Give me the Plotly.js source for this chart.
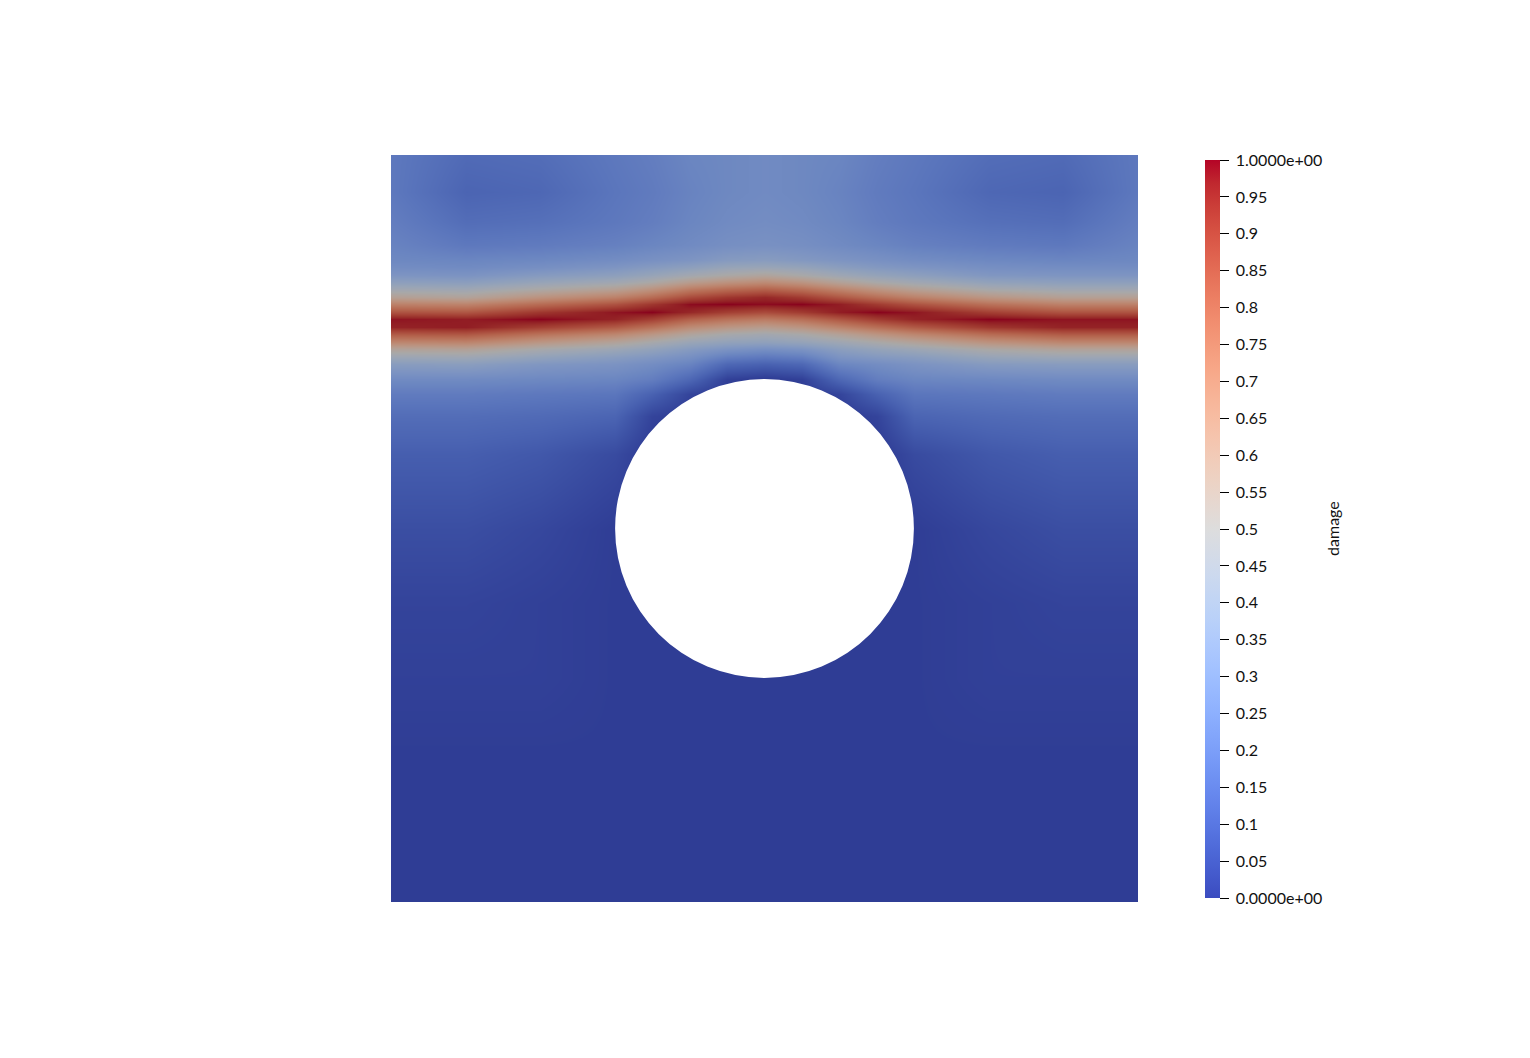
<!DOCTYPE html>
<html>
<head>
<meta charset="utf-8">
<script src="https://cdn.plot.ly/plotly-3.0.1.min.js"></script>
<style>
  body { margin: 0; background: #fff; }
  #plotDiv { width: 1530px; height: 1058px; }
</style>
</head>
<body>
<div id="plotDiv"></div>
<script>
// sample positions on the plate (unit square)
let xs = [0, 0.1, 0.2, 0.3, 0.35, 0.4, 0.45, 0.5, 0.55, 0.6, 0.65, 0.7, 0.8, 0.9, 1.0];
let ys = [0, 0.1, 0.2, 0.3, 0.4, 0.5, 0.6, 0.65, 0.68, 0.70, 0.72, 0.73, 0.74, 0.75,
          0.76, 0.77, 0.78, 0.79, 0.80, 0.81, 0.82, 0.83, 0.84, 0.85, 0.86, 0.88, 0.91, 0.95, 1.0];

// damage, one row per ys entry
let damage = [
  [0.01, 0.01, 0.01, 0.01, 0.01, 0.01, 0.01, 0.01, 0.01, 0.01, 0.01, 0.01, 0.01, 0.01, 0.01],
  [0.01, 0.01, 0.01, 0.01, 0.01, 0.01, 0.01, 0.01, 0.01, 0.01, 0.01, 0.01, 0.01, 0.01, 0.01],
  [0.01, 0.01, 0.01, 0.01, 0.01, 0.01, 0.01, 0.01, 0.01, 0.01, 0.01, 0.01, 0.01, 0.01, 0.01],
  [0.02, 0.02, 0.02, 0.01, 0.01, 0.01, 0.01, 0.01, 0.01, 0.01, 0.01, 0.01, 0.02, 0.02, 0.02],
  [0.03, 0.03, 0.02, 0.01, 0.01, 0.01, 0.01, 0.01, 0.01, 0.01, 0.01, 0.01, 0.02, 0.03, 0.03],
  [0.06, 0.06, 0.04, 0.01, 0.01, 0.01, 0.01, 0.01, 0.01, 0.01, 0.01, 0.01, 0.04, 0.06, 0.06],
  [0.11, 0.11, 0.09, 0.05, 0.00, 0.00, 0.00, 0.00, 0.00, 0.00, 0.00, 0.05, 0.09, 0.11, 0.11],
  [0.16, 0.16, 0.15, 0.13, 0.03, 0.00, 0.00, 0.00, 0.00, 0.00, 0.03, 0.13, 0.15, 0.16, 0.16],
  [0.21, 0.21, 0.20, 0.19, 0.12, 0.03, 0.00, 0.00, 0.00, 0.03, 0.12, 0.19, 0.20, 0.21, 0.21],
  [0.27, 0.27, 0.26, 0.25, 0.22, 0.14, 0.02, 0.00, 0.02, 0.14, 0.22, 0.25, 0.26, 0.27, 0.27],
  [0.36, 0.37, 0.33, 0.31, 0.28, 0.24, 0.14, 0.12, 0.14, 0.25, 0.28, 0.31, 0.35, 0.36, 0.36],
  [0.44, 0.45, 0.40, 0.36, 0.33, 0.29, 0.22, 0.20, 0.22, 0.31, 0.34, 0.36, 0.42, 0.44, 0.44],
  [0.55, 0.56, 0.49, 0.44, 0.40, 0.35, 0.31, 0.29, 0.31, 0.37, 0.41, 0.44, 0.51, 0.55, 0.55],
  [0.69, 0.70, 0.62, 0.55, 0.49, 0.43, 0.40, 0.39, 0.41, 0.45, 0.50, 0.55, 0.64, 0.69, 0.69],
  [0.83, 0.84, 0.76, 0.69, 0.62, 0.54, 0.49, 0.47, 0.50, 0.56, 0.63, 0.69, 0.78, 0.83, 0.83],
  [0.96, 0.97, 0.90, 0.83, 0.76, 0.67, 0.62, 0.59, 0.63, 0.70, 0.77, 0.83, 0.92, 0.96, 0.96],
  [0.98, 0.97, 1.00, 0.96, 0.90, 0.81, 0.76, 0.73, 0.77, 0.84, 0.91, 0.96, 1.00, 0.98, 0.98],
  [0.85, 0.84, 0.92, 0.98, 1.00, 0.95, 0.90, 0.87, 0.91, 0.97, 1.00, 0.98, 0.90, 0.85, 0.85],
  [0.71, 0.70, 0.78, 0.85, 0.92, 0.99, 1.00, 0.99, 1.00, 0.97, 0.91, 0.85, 0.76, 0.71, 0.71],
  [0.57, 0.55, 0.64, 0.71, 0.78, 0.87, 0.92, 0.95, 0.91, 0.84, 0.77, 0.71, 0.62, 0.57, 0.57],
  [0.46, 0.45, 0.51, 0.57, 0.64, 0.73, 0.78, 0.81, 0.77, 0.70, 0.63, 0.57, 0.49, 0.46, 0.46],
  [0.38, 0.37, 0.42, 0.46, 0.51, 0.59, 0.64, 0.67, 0.63, 0.56, 0.50, 0.46, 0.40, 0.38, 0.38],
  [0.32, 0.31, 0.35, 0.38, 0.42, 0.47, 0.51, 0.54, 0.50, 0.45, 0.41, 0.38, 0.33, 0.32, 0.32],
  [0.28, 0.27, 0.29, 0.32, 0.35, 0.38, 0.42, 0.43, 0.41, 0.37, 0.34, 0.32, 0.29, 0.28, 0.28],
  [0.26, 0.25, 0.26, 0.28, 0.30, 0.32, 0.35, 0.36, 0.34, 0.32, 0.30, 0.28, 0.26, 0.25, 0.26],
  [0.24, 0.20, 0.21, 0.23, 0.25, 0.27, 0.29, 0.30, 0.29, 0.27, 0.25, 0.23, 0.21, 0.20, 0.24],
  [0.22, 0.16, 0.17, 0.20, 0.22, 0.25, 0.27, 0.28, 0.27, 0.25, 0.22, 0.20, 0.17, 0.16, 0.22],
  [0.20, 0.13, 0.14, 0.19, 0.21, 0.24, 0.26, 0.27, 0.26, 0.24, 0.21, 0.19, 0.14, 0.13, 0.20],
  [0.20, 0.15, 0.16, 0.20, 0.22, 0.25, 0.26, 0.27, 0.26, 0.25, 0.22, 0.20, 0.16, 0.15, 0.20]
];

// hole in the plate
let holeX = 0.5, holeY = 0.5, holeR = 0.2;

// colorbar ticks
let tickVals = [0, 0.05, 0.1, 0.15, 0.2, 0.25, 0.3, 0.35, 0.4, 0.45, 0.5,
                0.55, 0.6, 0.65, 0.7, 0.75, 0.8, 0.85, 0.9, 0.95, 1];
let tickText = ["0.0000e+00", "0.05", "0.1", "0.15", "0.2", "0.25", "0.3", "0.35", "0.4", "0.45", "0.5",
                "0.55", "0.6", "0.65", "0.7", "0.75", "0.8", "0.85", "0.9", "0.95", "1.0000e+00"];

// cool to warm
let cw = [
  [59,76,192],[68,90,204],[77,104,215],[87,117,225],[98,130,234],[108,142,241],
  [119,154,247],[130,165,251],[141,176,254],[152,185,255],[163,194,255],[174,201,253],
  [184,208,249],[194,213,244],[204,217,238],[213,219,230],[221,221,221],[229,216,209],
  [236,211,197],[241,204,185],[245,196,173],[247,187,160],[247,177,148],[247,166,135],
  [244,154,123],[241,141,111],[236,127,99],[229,112,88],[222,96,77],[213,80,66],
  [203,62,56],[192,40,47],[180,4,38]
];

function makeScale(k) {
  return cw.map((c, i) => [i / (cw.length - 1),
    "rgb(" + Math.round(c[0] * k) + "," + Math.round(c[1] * k) + "," + Math.round(c[2] * k) + ")"]);
}

let fontFam = "Lato, 'Liberation Sans', sans-serif";

let data = [
  {
    type: "heatmap",
    x: xs,
    y: ys,
    z: damage,
    zmin: 0,
    zmax: 1,
    zsmooth: "best",
    colorscale: makeScale(0.76), // surface is a bit darker than the bar (lighting)
    showscale: false,
    hoverinfo: "skip"
  },
  {
    type: "scatter",
    mode: "markers",
    x: [holeX],
    y: [holeY],
    hoverinfo: "skip",
    marker: {
      size: 1,
      opacity: 0,
      color: [0],
      cmin: 0,
      cmax: 1,
      colorscale: makeScale(1),
      showscale: true,
      colorbar: {
        x: 1.0897,
        xanchor: "left",
        xpad: 0,
        y: 0.4993,
        yanchor: "middle",
        ypad: 0,
        len: 738,
        lenmode: "pixels",
        thickness: 15,
        outlinewidth: 0,
        ticks: "outside",
        ticklen: 9,
        tickwidth: 1,
        tickcolor: "#000",
        tickmode: "array",
        tickvals: tickVals,
        ticktext: tickText.map(t => " " + t),
        tickfont: {family: fontFam, size: 16, color: "#111"}
      }
    }
  }
];

let layout = {
  width: 1530,
  height: 1058,
  margin: {l: 391, r: 392, t: 155, b: 156},
  paper_bgcolor: "#fff",
  plot_bgcolor: "#fff",
  showlegend: false,
  xaxis: {range: [0, 1], visible: false, fixedrange: true},
  yaxis: {range: [0, 1], visible: false, fixedrange: true},
  shapes: [{
    type: "circle",
    xref: "x", yref: "y",
    x0: holeX - holeR, x1: holeX + holeR,
    y0: holeY - holeR, y1: holeY + holeR,
    fillcolor: "#fff",
    line: {width: 0},
    layer: "above"
  }],
  annotations: [{
    text: "damage",
    xref: "paper", yref: "paper",
    x: 1.261, y: 0.5007,
    xanchor: "center", yanchor: "middle",
    textangle: -90,
    showarrow: false,
    font: {family: fontFam, size: 16, color: "#111"}
  }]
};

Plotly.newPlot("plotDiv", data, layout, {displayModeBar: false, staticPlot: true});
</script>
</body>
</html>
